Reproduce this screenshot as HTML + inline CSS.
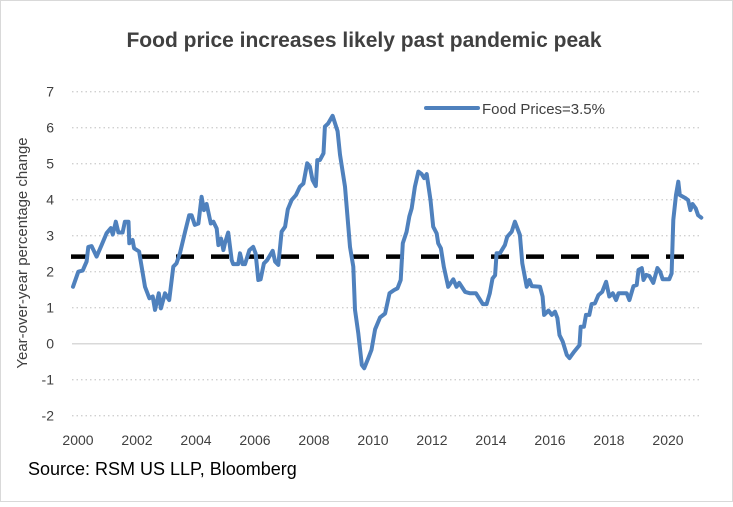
<!DOCTYPE html>
<html><head><meta charset="utf-8">
<style>
html,body{margin:0;padding:0;background:#fff;}
body{width:733px;height:502px;overflow:hidden;font-family:"Liberation Sans",Arial,sans-serif;}
</style></head>
<body>
<svg id="chart" width="733" height="502" viewBox="0 0 733 502" xmlns="http://www.w3.org/2000/svg">
  <rect x="0.5" y="0.5" width="732" height="501" fill="#fff" stroke="#d9d9d9"/>
  <text x="364" y="47" text-anchor="middle" font-size="21" font-weight="bold" fill="#404040">Food price increases likely past pandemic peak</text>
  <g id="grid"></g>
  <g id="yticks"></g>
  <g id="xticks"></g>
  <text transform="translate(27,253) rotate(-90)" text-anchor="middle" font-size="15" fill="#404040">Year-over-year percentage change</text>
  <g id="series"></g>
  <g>
    <line x1="426" y1="108" x2="478" y2="108" stroke="#4F81BD" stroke-width="4" stroke-linecap="round"/>
    <text x="482" y="114" font-size="15" fill="#404040">Food Prices=3.5%</text>
  </g>
  <text x="28" y="475" font-size="18" fill="#000">Source: RSM US LLP, Bloomberg</text>
</svg>
<script>
const yTicks = [7,6,5,4,3,2,1,0,-1,-2];
const xTickLabels = [2000,2002,2004,2006,2008,2010,2012,2014,2016,2018,2020];
const avgValue = 2.42;
const times = [2000.0,2000.18,2000.33,2000.46,2000.52,2000.63,2000.8,2000.97,2001.14,2001.28,2001.35,2001.45,2001.54,2001.68,2001.76,2001.88,2001.91,2002.02,2002.07,2002.24,2002.44,2002.59,2002.7,2002.78,2002.91,2002.98,2003.12,2003.26,2003.4,2003.51,2003.63,2003.8,2003.94,2004.02,2004.13,2004.25,2004.36,2004.44,2004.53,2004.67,2004.76,2004.87,2004.93,2005.02,2005.1,2005.15,2005.26,2005.38,2005.43,2005.6,2005.66,2005.75,2005.83,2005.98,2006.11,2006.19,2006.28,2006.36,2006.47,2006.58,2006.77,2006.85,2006.96,2007.07,2007.19,2007.28,2007.41,2007.56,2007.69,2007.81,2007.94,2008.03,2008.12,2008.23,2008.28,2008.37,2008.49,2008.54,2008.65,2008.8,2008.97,2009.05,2009.22,2009.39,2009.5,2009.56,2009.67,2009.79,2009.87,2010.01,2010.12,2010.24,2010.41,2010.58,2010.73,2010.88,2011.0,2011.11,2011.18,2011.31,2011.4,2011.48,2011.59,2011.71,2011.82,2011.9,2011.99,2012.12,2012.21,2012.33,2012.38,2012.47,2012.57,2012.72,2012.89,2013.0,2013.09,2013.29,2013.46,2013.66,2013.89,2014.02,2014.13,2014.22,2014.31,2014.36,2014.47,2014.64,2014.72,2014.87,2014.98,2015.15,2015.23,2015.38,2015.47,2015.55,2015.83,2015.92,2015.97,2016.12,2016.23,2016.34,2016.42,2016.49,2016.6,2016.74,2016.83,2016.99,2017.17,2017.21,2017.32,2017.39,2017.5,2017.58,2017.69,2017.81,2017.94,2018.07,2018.18,2018.3,2018.41,2018.49,2018.77,2018.86,2019.0,2019.11,2019.17,2019.28,2019.34,2019.43,2019.54,2019.67,2019.81,2019.9,2019.99,2020.21,2020.29,2020.35,2020.44,2020.52,2020.57,2020.77,2020.85,2020.93,2021.0,2021.11,2021.19,2021.3];
const values = [1.58,2.0,2.03,2.28,2.69,2.71,2.42,2.74,3.07,3.21,3.03,3.39,3.09,3.09,3.39,3.39,2.79,2.88,2.65,2.56,1.58,1.26,1.31,0.94,1.4,0.98,1.4,1.21,2.14,2.23,2.53,3.11,3.57,3.57,3.3,3.34,4.08,3.71,3.88,3.34,3.39,3.2,2.74,2.92,2.6,2.79,3.09,2.32,2.21,2.21,2.51,2.21,2.21,2.6,2.69,2.51,1.77,1.79,2.23,2.32,2.58,2.28,2.19,3.11,3.25,3.73,3.99,4.13,4.36,4.45,5.01,4.92,4.55,4.38,5.1,5.1,5.29,6.03,6.12,6.33,5.9,5.25,4.36,2.69,2.14,0.94,0.29,-0.59,-0.68,-0.4,-0.17,0.4,0.73,0.84,1.4,1.49,1.54,1.77,2.79,3.11,3.53,3.76,4.36,4.78,4.71,4.6,4.71,3.99,3.25,3.06,2.79,2.65,2.14,1.58,1.79,1.58,1.69,1.44,1.4,1.4,1.1,1.1,1.4,1.81,1.9,2.51,2.51,2.74,2.97,3.11,3.39,3.02,2.23,1.58,1.77,1.6,1.58,1.31,0.8,0.92,0.8,0.89,0.71,0.24,0.06,-0.31,-0.4,-0.22,-0.04,0.47,0.47,0.8,0.8,1.1,1.12,1.35,1.44,1.72,1.31,1.4,1.21,1.4,1.4,1.21,1.6,1.63,2.05,2.1,1.77,1.91,1.88,1.69,2.1,2.0,1.79,1.79,1.95,3.44,4.13,4.5,4.13,4.04,3.99,3.71,3.88,3.76,3.57,3.5];

const NS = "http://www.w3.org/2000/svg";
const X0 = 73, XPER = 29.5, Y0 = 343.7, YPER = 36;
function xScale(t){ return X0 + (t - 2000) * XPER; }
function yScale(v){ return Y0 - v * YPER; }
function mk(tag, attrs, parent){ const e = document.createElementNS(NS, tag); for (const k in attrs) e.setAttribute(k, attrs[k]); parent.appendChild(e); return e; }

const grid = document.getElementById('grid');
const yt = document.getElementById('yticks');
yTicks.forEach(v => {
  const y = yScale(v);
  const gl = mk('line', {x1:72, x2:702, y1:y, y2:y, stroke: v===0 ? '#d9d9d9' : '#d0d0d0', 'stroke-width': v===0 ? 1.5 : 1.3, 'stroke-dasharray': v===0 ? 'none' : '1.5 3'}, grid);
  
  
  const tx = mk('text', {x:54, y:y+5, 'text-anchor':'end', 'font-size':14, fill:'#404040'}, yt);
  tx.textContent = v;
  
  
});
const xt = document.getElementById('xticks');
xTickLabels.forEach(yr => {
  const tx = mk('text', {x:xScale(yr)+5, y:445, 'text-anchor':'middle', 'font-size':14, fill:'#404040'}, xt);
  tx.textContent = yr;
  
  
});
const series = document.getElementById('series');
const avg = mk('line', {x1:71, x2:687, y1:yScale(avgValue), y2:yScale(avgValue), stroke:'#000', 'stroke-width':4.5, 'stroke-dasharray':'18 17'}, series);


const d = times.map((t,i) => (i ? 'L' : 'M') + xScale(t).toFixed(1) + ' ' + yScale(values[i]).toFixed(1)).join(' ');
const line = mk('path', {d:d, fill:'none', stroke:'#4F81BD', 'stroke-width':4, 'stroke-linejoin':'round', 'stroke-linecap':'round'}, series);


</script>
</body></html>
